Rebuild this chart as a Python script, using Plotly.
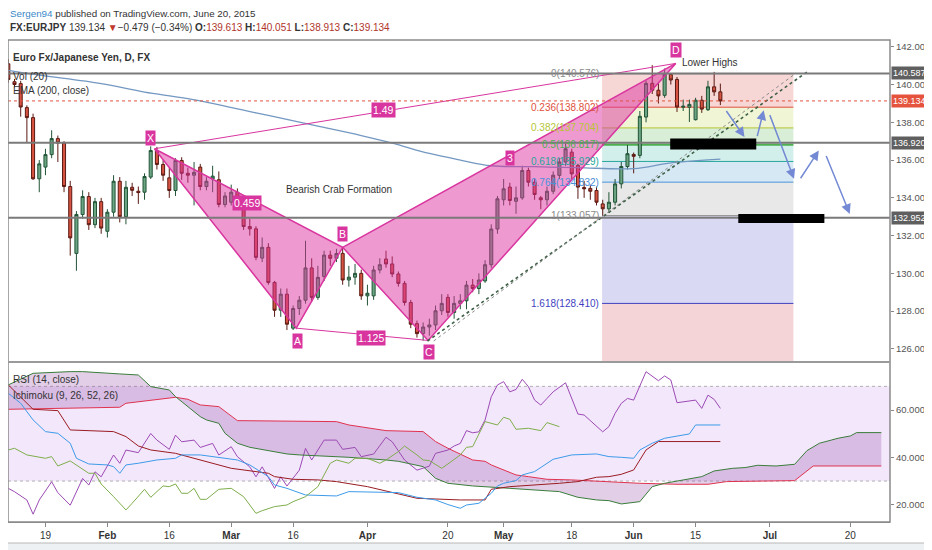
import pandas as pd
import plotly.graph_objects as go

# trading days on the time scale (weekends skipped), Jan 9 .. Jul 28 2015
days = pd.bdate_range("2015-01-09", periods=143)

# daily EUR/JPY candles, Jan 9 .. Jun 19 2015
opens = [141.10, 140.15, 140.05, 138.78, 138.25, 135.01, 135.63, 136.29, 137.14, 136.90,
         134.60, 131.06, 133.12, 134.07, 132.58, 133.80, 132.23, 133.24, 134.88, 133.00,
         134.56, 134.35, 134.30, 135.10, 136.51, 135.77, 135.06, 134.39, 135.98, 135.30,
         135.20, 135.63, 134.60, 135.00, 134.96, 133.65, 133.77, 134.30, 133.77, 132.48,
         132.36, 130.81, 131.38, 129.52, 128.05, 128.90, 127.10, 128.14, 128.58, 130.29,
         128.73, 129.84, 130.97, 130.80, 131.06, 129.65, 129.80, 130.00, 128.81, 128.81,
         130.18, 130.76, 130.50, 129.97, 129.47, 128.46, 127.34, 126.81, 127.16, 127.27,
         128.02, 128.73, 127.93, 128.41, 128.55, 129.38, 129.20, 129.60, 130.46, 132.35,
         133.90, 134.57, 133.82, 134.00, 135.45, 134.83, 134.00, 133.90, 134.35, 135.19,
         135.90, 136.42, 135.72, 134.55, 134.50, 134.39, 133.68, 133.42, 133.77, 134.74,
         135.66, 136.30, 136.25, 138.28, 140.06, 139.70, 139.43, 140.53, 140.27, 138.80,
         138.80, 138.14, 139.17, 138.67, 139.88, 139.613]
highs = [141.35, 140.30, 140.20, 138.90, 138.46, 136.00, 136.60, 137.58, 137.30, 137.00,
         134.90, 133.30, 134.40, 134.30, 134.00, 134.00, 133.40, 135.20, 135.10, 134.90,
         134.80, 134.60, 135.30, 136.73, 136.70, 136.00, 135.60, 136.10, 136.15, 135.60,
         135.90, 135.80, 135.10, 135.70, 135.40, 134.30, 134.70, 134.50, 133.90, 132.90,
         132.50, 131.90, 131.60, 129.60, 129.20, 129.20, 128.30, 128.80, 131.73, 130.80,
         130.40, 131.20, 131.20, 131.30, 131.38, 130.40, 130.50, 130.20, 129.40, 130.40,
         130.80, 131.20, 130.90, 130.10, 129.60, 128.60, 127.50, 127.40, 127.60, 128.30,
         128.90, 128.90, 128.80, 128.90, 129.60, 129.70, 130.00, 130.70, 132.60, 134.10,
         135.00, 134.80, 134.60, 135.70, 135.60, 135.00, 134.10, 134.60, 135.40, 136.10,
         136.90, 136.60, 135.80, 134.90, 134.70, 134.60, 133.90, 134.30, 135.00, 135.90,
         136.80, 136.40, 138.60, 140.20, 141.03, 140.10, 140.85, 140.60, 140.40, 139.20,
         139.20, 139.30, 139.40, 140.20, 140.67, 140.051]
lows = [140.10, 139.85, 138.30, 136.95, 134.95, 134.30, 135.20, 136.10, 135.90, 134.30,
        130.94, 130.14, 132.90, 132.30, 132.40, 132.10, 131.90, 133.00, 132.70, 132.60,
        134.10, 133.68, 133.90, 135.00, 135.50, 134.90, 134.00, 134.10, 134.95, 134.80,
        133.60, 134.40, 134.40, 134.30, 133.50, 133.50, 133.60, 133.60, 132.30, 132.00,
        130.70, 130.60, 129.40, 127.70, 127.70, 127.00, 127.00, 127.80, 128.40, 128.50,
        128.60, 129.60, 130.40, 130.60, 129.40, 129.30, 129.40, 128.60, 128.30, 128.60,
        130.00, 130.30, 129.80, 129.30, 128.30, 127.10, 126.60, 126.44, 126.70, 127.00,
        127.80, 127.70, 127.60, 128.10, 128.10, 129.00, 128.90, 129.50, 130.30, 132.10,
        133.60, 133.60, 133.16, 133.90, 134.60, 133.90, 133.40, 133.60, 134.20, 135.00,
        135.70, 135.00, 133.95, 134.00, 133.90, 133.60, 133.06, 133.20, 133.60, 134.50,
        135.50, 135.30, 136.10, 138.00, 139.50, 139.00, 139.30, 140.00, 138.55, 138.60,
        138.02, 138.10, 138.50, 138.60, 139.40, 138.913]
closes = [140.27, 140.00, 138.81, 138.25, 135.01, 135.80, 136.29, 137.14, 136.90, 134.60,
          131.88, 133.12, 134.07, 132.58, 133.80, 132.40, 133.24, 134.88, 133.00, 134.56,
          134.40, 134.28, 135.13, 136.51, 135.77, 135.20, 134.39, 135.98, 135.30, 135.20,
          135.35, 134.60, 134.88, 135.15, 133.65, 134.10, 134.30, 133.77, 132.48, 132.36,
          130.85, 131.38, 129.52, 128.05, 128.90, 127.31, 128.14, 128.58, 130.29, 128.73,
          129.79, 130.97, 130.80, 131.05, 129.65, 129.80, 130.00, 128.81, 128.95, 130.18,
          130.46, 130.50, 129.97, 129.47, 128.46, 127.31, 126.81, 127.16, 127.27, 128.02,
          128.41, 127.93, 128.41, 128.55, 129.38, 129.20, 129.65, 130.46, 132.35, 133.95,
          134.48, 133.86, 134.00, 135.45, 134.83, 134.18, 133.90, 134.35, 135.20, 135.90,
          136.60, 135.27, 134.57, 134.48, 134.35, 133.77, 133.42, 133.77, 134.74, 135.66,
          136.34, 136.20, 138.32, 140.06, 139.70, 139.40, 140.53, 140.24, 138.81, 138.85,
          138.95, 139.17, 138.70, 139.88, 139.613, 139.134]

# EMA(200), read at a few days (index into days)
ema_day = [0, 5, 15, 22, 29, 40, 50, 57, 62, 68, 73, 78, 85, 92, 101, 107, 115]
ema_val = [140.75, 140.5, 140.05, 139.6, 139.25, 138.5, 137.8, 137.3, 136.9, 136.35,
           136.0, 135.7, 135.65, 135.6, 135.55, 135.85, 136.05]

# RSI(14)
rsi_day = [0, 1, 3, 4, 5, 7, 8, 10, 12, 13, 14, 15, 17, 18, 19, 21, 23, 24, 26, 27,
           28, 30, 31, 33, 34, 36, 37, 39, 40, 41, 43, 44, 45, 47, 48, 49, 51, 53, 54, 56,
           57, 59, 61, 62, 64, 66, 68, 69, 71, 72, 73, 74, 75, 76, 77, 78, 79, 80, 81, 82,
           83, 84, 85, 86, 87, 88, 90, 92, 93, 95, 96, 97, 98, 99, 100, 101, 103, 105, 106, 107,
           108, 111, 112, 113, 114, 115]
rsi_val = [26.9, 25.5, 22.0, 16.0, 22.0, 29.7, 25.1, 19.8, 31.1, 28.3, 33.9, 31.8, 41.0, 37.5,
           43.1, 42.0, 50.1, 47.3, 43.4, 49.4, 46.6, 47.3, 44.2, 45.9, 41.0, 44.5, 40.3, 36.0,
           31.8, 36.0, 26.9, 31.8, 27.9, 34.6, 43.8, 38.9, 47.3, 47.3, 43.4, 44.2, 40.3, 41.4,
           48.5, 46.6, 38.9, 34.6, 36.3, 41.7, 43.1, 44.8, 45.9, 51.3, 50.4, 50.8, 55.8, 65.6,
           70.6, 72.0, 67.7, 68.7, 73.0, 69.9, 64.2, 62.1, 64.9, 67.7, 71.5, 58.3, 57.9, 53.0,
           50.8, 53.0, 58.6, 62.8, 64.9, 64.2, 76.2, 72.4, 74.4, 72.7, 63.1, 64.2, 60.7, 66.3,
           64.5, 60.7]

# Ichimoku (9, 26, 52, 26), price units
tenkan_day = [0, 2, 4, 6, 8, 10, 11, 13, 16, 17, 18, 19, 21, 24, 27, 28, 31, 34, 37, 39,
              41, 42, 43, 45, 48, 53, 55, 63, 66, 69, 71, 73, 74, 76, 78, 79, 80, 82, 83, 85,
              88, 91, 95, 97, 99, 101, 102, 104, 106, 109, 110, 111, 115]
tenkan_val = [143.90, 142.47, 140.09, 138.42, 138.18, 136.76, 134.61, 133.80, 133.66, 133.42,
              132.47, 133.66, 133.90, 134.37, 134.61, 135.09, 135.09, 134.75, 134.37, 133.66,
              132.47, 131.99, 130.80, 130.32, 129.37, 129.23, 129.85, 129.71, 129.04, 128.66,
              128.00, 127.47, 127.94, 128.18, 129.61, 130.66, 131.04, 131.42, 132.23, 132.71,
              134.47, 135.09, 135.23, 134.85, 134.75, 134.61, 135.80, 136.76, 137.47, 137.94,
              138.09, 139.37, 139.37]
kijun_day = [0, 4, 8, 10, 17, 19, 21, 23, 27, 31, 36, 42, 43, 46, 50, 53, 58, 66, 71, 73,
             77, 78, 81, 86, 89, 92, 95, 97, 99, 101, 102, 103, 105, 115]
kijun_val = [145.09, 141.61, 141.42, 138.66, 138.42, 137.71, 136.37, 135.80, 135.32, 134.37,
             133.18, 132.47, 131.99, 131.61, 131.52, 131.28, 130.56, 128.90, 128.75, 128.66,
             128.66, 130.18, 130.56, 130.80, 131.04, 131.28, 131.90, 131.99, 132.32, 132.94,
             134.37, 135.80, 137.00, 137.00]
chikou_day = [0, 1, 3, 4, 6, 7, 8, 10, 11, 13, 14, 15, 17, 18, 19, 20, 22, 23, 25, 26,
              27, 28, 29, 30, 31, 32, 34, 36, 38, 40, 41, 43, 45, 46, 48, 50, 52, 53, 55, 56,
              58, 60, 61, 63, 64, 66, 67, 68, 70, 71, 73, 74, 75, 77, 79, 80, 81, 82, 84, 86,
              87, 89]
chikou_val = [135.80, 136.04, 135.09, 134.94, 134.61, 134.85, 133.51, 134.23, 133.66, 132.47,
              132.47, 130.94, 129.13, 128.18, 127.23, 128.18, 130.18, 129.04, 130.66, 130.56,
              130.94, 129.61, 129.61, 130.32, 128.75, 128.75, 130.18, 130.32, 129.13, 126.75,
              127.13, 127.71, 127.94, 128.42, 129.13, 130.56, 133.90, 134.37, 133.90, 134.61,
              134.61, 133.90, 134.37, 135.56, 136.37, 135.09, 134.37, 134.28, 133.18, 133.80,
              135.09, 136.18, 136.28, 139.85, 139.37, 140.47, 140.18, 138.75, 138.90, 138.56,
              139.71, 139.13]
span_a_day = [0, 4, 10, 12, 18, 21, 23, 26, 27, 29, 31, 32, 34, 35, 37, 39, 42, 45, 47, 53,
              55, 61, 63, 67, 69, 71, 75, 81, 86, 89, 92, 95, 97, 99, 102, 104, 106, 109, 112, 114,
              117, 119, 121, 124, 127, 129, 131, 133, 134, 136, 137, 141]
span_a_val = [145.09, 146.75, 146.99, 146.99, 146.66, 146.51, 144.85, 144.37, 143.42, 141.99,
              140.56, 140.09, 139.61, 138.18, 136.76, 136.18, 135.71, 135.23, 135.09, 134.85,
              134.75, 134.37, 134.18, 133.42, 131.75, 131.04, 130.66, 130.32, 130.08, 129.85,
              129.04, 128.66, 128.56, 128.09, 128.42, 130.56, 131.04, 131.52, 131.99, 132.80,
              133.18, 133.28, 133.61, 133.51, 133.75, 135.71, 136.76, 137.23, 137.47, 137.80,
              138.28, 138.28]
span_b_day = [0, 18, 19, 24, 27, 29, 31, 34, 37, 53, 55, 61, 67, 69, 71, 75, 77, 78, 80, 82,
              84, 87, 91, 97, 102, 108, 113, 116, 127, 130, 141]
span_b_val = [141.61, 141.90, 142.47, 142.94, 143.32, 143.04, 142.23, 141.99, 139.99, 139.85,
              139.37, 138.56, 138.42, 137.00, 136.04, 134.37, 134.18, 133.66, 132.94, 132.23,
              131.99, 131.61, 131.52, 131.23, 131.04, 130.90, 130.90, 131.28, 131.42, 133.51,
              133.51]

# horizontal support / resistance lines
sr_levels = [140.587, 136.920, 132.952]

# fib retracement from the May low to the June high
fib_ratio = [0, 0.236, 0.382, 0.5, 0.618, 0.764, 1, 1.618]
fib_price = [140.576, 138.802, 137.704, 136.817, 135.929, 134.832, 133.057, 128.410]
fib_floor = 120.891          # 2.618 level, below the visible range
fib_days = [95.9, 126.8]

# bearish crab: point names, trading-day index, price
crab_name = ["X", "A", "B", "C", "D"]
crab_day = [23.6, 46.5, 54.0, 67.8, 107.8]
crab_price = [136.6, 127.1, 131.38, 126.45, 141.12]
label_day = [23.0, 46.7, 54.0, 67.9, 107.9]
label_price = [137.18, 126.42, 132.11, 125.84, 141.82]
ratio_text = ["0.459", "1.125", "1.49", "3"]
ratio_day = [38.5, 58.5, 60.6, 81.0]
ratio_price = [133.75, 126.58, 138.64, 136.09]

# dotted trend lines off the April low
trend_day = [[67.7, 129.0], [68.7, 126.8]]
trend_price = [[126.42, 140.67], [126.42, 140.50]]

# projected path: black target zones and arrows (tail day, tail price, head day, head price)
zone_day = [[106.9, 120.8], [117.9, 131.8]]
zone_price = [[136.56, 137.14], [132.67, 133.15]]
arrows = [(115.8, 138.68, 118.9, 137.22), (120.9, 137.19, 122.0, 138.64),
          (122.9, 138.46, 126.9, 135.01), (127.8, 134.96, 130.9, 136.51),
          (132.0, 136.30, 135.9, 133.15)]

tick_dates = ["2015-01-19", "2015-02-02", "2015-02-16", "2015-03-02", "2015-03-16", "2015-04-01",
              "2015-04-20", "2015-05-01", "2015-05-18", "2015-06-01", "2015-06-15", "2015-07-01",
              "2015-07-20"]
tick_text = ["19", "<b>Feb</b>", "16", "<b>Mar</b>", "16", "<b>Apr</b>", "20", "<b>May</b>",
             "18", "<b>Jun</b>", "15", "<b>Jul</b>", "20"]

price_range = [125.36, 142.36]
rsi_range = [12.7, 79.9]
ichi_range = [125.51, 148.23]

FONT = "Liberation Sans, Arial, sans-serif"
PINK = "#d9359f"


def at(i):
    # fractional trading-day index -> timestamp
    n = int(i)
    return days[n] + pd.Timedelta(days=i - n)


fig = go.Figure()

# ---- fib retracement box ----
zone_fill = ["#f7d6d6", "#f0f5d6", "#d8eed6", "#d3efeb", "#d7e8f5", "#e8e8e8", "#d9d9f4", "#f5d4d7"]
fib_col = ["#8a8a8a", "#e0503c", "#b5c534", "#4caf50", "#26a69a", "#4a90d9", "#8a8a8a", "#3f3fbf"]
fx0, fx1 = at(fib_days[0]), at(fib_days[1])
edges = fib_price + [max(fib_floor, price_range[0])]
for k, col in enumerate(zone_fill):
    fig.add_shape(type="rect", xref="x", yref="y", x0=fx0, x1=fx1, y0=edges[k + 1], y1=edges[k],
                  fillcolor=col, line_width=0, layer="below")
for r, p, col in zip(fib_ratio, fib_price, fib_col):
    fig.add_shape(type="line", xref="x", yref="y", x0=fx0, x1=fx1, y0=p, y1=p,
                  line=dict(color=col, width=2 if r == 0.5 else 1), layer="below")
    fig.add_annotation(x=fx0, y=p, xref="x", yref="y", text=f"{r:g}({p:.3f})", showarrow=False,
                       xanchor="right", xshift=-1, font=dict(size=10, color=col, family=FONT))

# ---- RSI band ----
fig.add_shape(type="rect", xref="paper", yref="y2", x0=0, x1=1, y0=30, y1=70,
              fillcolor="#f3e7fb", line_width=0, layer="below")
for lvl in (30, 70):
    fig.add_shape(type="line", xref="paper", yref="y2", x0=0, x1=1, y0=lvl, y1=lvl,
                  line=dict(color="#b0b0b0", width=1, dash="dot"), layer="below")

# ---- candles and EMA ----
fig.add_trace(go.Candlestick(
    x=days[:len(opens)], open=opens, high=highs, low=lows, close=closes,
    increasing=dict(line=dict(color="#225437", width=1), fillcolor="#6ba583"),
    decreasing=dict(line=dict(color="#5b1a13", width=1), fillcolor="#d75442"),
    whiskerwidth=0, hoverinfo="skip"))
fig.add_trace(go.Scatter(x=days[ema_day], y=ema_val, mode="lines", line_shape="spline",
                         line=dict(color="#7398c2", width=1.3), hoverinfo="skip"))

# ---- crab pattern ----
cx = [at(d) for d in crab_day]
for a, b, c in [(0, 1, 2), (2, 3, 4)]:
    fig.add_trace(go.Scatter(x=[cx[a], cx[b], cx[c], cx[a]],
                             y=[crab_price[a], crab_price[b], crab_price[c], crab_price[a]],
                             mode="lines", fill="toself", fillcolor="rgba(222,52,160,0.5)",
                             line=dict(color=PINK, width=1.5), hoverinfo="skip"))
for a, b in [(0, 4), (1, 3)]:
    fig.add_trace(go.Scatter(x=[cx[a], cx[b]], y=[crab_price[a], crab_price[b]], mode="lines",
                             line=dict(color=PINK, width=1), hoverinfo="skip"))
for name, d, p in zip(crab_name, label_day, label_price):
    fig.add_annotation(x=at(d), y=p, text=name, showarrow=False, bgcolor=PINK, borderpad=1,
                       font=dict(size=10.5, color="white", family=FONT))
for t, d, p in zip(ratio_text, ratio_day, ratio_price):
    fig.add_annotation(x=at(d), y=p, text=t, showarrow=False, bgcolor=PINK, borderpad=1,
                       font=dict(size=10.5, color="white", family=FONT))

# ---- dotted trend lines ----
for (d0, d1), (p0, p1), col, w in zip(trend_day, trend_price, ["#3d5f45", "#8a8a8a"], [1.6, 1]):
    fig.add_trace(go.Scatter(x=[at(d0), at(d1)], y=[p0, p1], mode="lines",
                             line=dict(color=col, width=w, dash="dot"), hoverinfo="skip"))

# ---- support / resistance and last price ----
for lvl in sr_levels:
    fig.add_shape(type="line", xref="paper", yref="y", x0=0, x1=1, y0=lvl, y1=lvl,
                  line=dict(color="#7a7a7a", width=2))
fig.add_shape(type="line", xref="paper", yref="y", x0=0, x1=1, y0=closes[-1], y1=closes[-1],
              line=dict(color="#e0553f", width=1, dash="dot"))

# ---- projected path ----
for (d0, d1), (p0, p1) in zip(zone_day, zone_price):
    fig.add_shape(type="rect", xref="x", yref="y", x0=at(d0), x1=at(d1), y0=p0, y1=p1,
                  fillcolor="black", line_width=0)
for d0, p0, d1, p1 in arrows:
    fig.add_annotation(x=at(d1), y=p1, ax=at(d0), ay=p0, xref="x", yref="y", axref="x", ayref="y",
                       text="", showarrow=True, arrowhead=2, arrowsize=1.3, arrowwidth=1.5,
                       arrowcolor="#7489d4")

fig.add_annotation(x=at(53.4), y=134.43, text="Bearish Crab Formation", showarrow=False,
                   font=dict(size=10, color="#333", family=FONT))
fig.add_annotation(x=at(113.3), y=141.19, text="Lower Highs", showarrow=False,
                   font=dict(size=10, color="#333", family=FONT))

# ---- Ichimoku (own hidden scale over the RSI pane) ----
fig.add_trace(go.Scatter(x=days[span_b_day], y=span_b_val, yaxis="y3", mode="lines",
                         line=dict(color="#e0324f", width=1), hoverinfo="skip"))
fig.add_trace(go.Scatter(x=days[span_a_day], y=span_a_val, yaxis="y3", mode="lines",
                         fill="tonexty", fillcolor="rgba(150,80,170,0.28)",
                         line=dict(color="#3a7d3a", width=1), hoverinfo="skip"))
fig.add_trace(go.Scatter(x=days[kijun_day], y=kijun_val, yaxis="y3", mode="lines",
                         line=dict(color="#9a1c22", width=1), hoverinfo="skip"))
fig.add_trace(go.Scatter(x=days[tenkan_day], y=tenkan_val, yaxis="y3", mode="lines",
                         line=dict(color="#3d9be9", width=1), hoverinfo="skip"))
fig.add_trace(go.Scatter(x=days[chikou_day], y=chikou_val, yaxis="y3", mode="lines",
                         line=dict(color="#7fae4c", width=1), hoverinfo="skip"))
fig.add_trace(go.Scatter(x=days[rsi_day], y=rsi_val, yaxis="y2", mode="lines",
                         line=dict(color="#9c4ab5", width=1), hoverinfo="skip"))

# ---- right axis price tags ----
for lvl in sr_levels:
    fig.add_annotation(x=1, y=lvl, xref="paper", yref="y", text=f"{lvl:.3f}", showarrow=False,
                       xanchor="left", xshift=1, bgcolor="#5f5f5f", borderpad=1,
                       font=dict(size=9, color="white", family=FONT))
fig.add_annotation(x=1, y=closes[-1], xref="paper", yref="y", text=f"{closes[-1]:.3f}",
                   showarrow=False, xanchor="left", xshift=1, bgcolor="#e5533d", borderpad=1,
                   font=dict(size=9, color="white", family=FONT))

# ---- header and pane legends ----
chg = closes[-1] - closes[-2]
red = "color:#b0342a"
head2 = (f"<b>FX:EURJPY</b> {closes[-1]:.3f} <span style='color:#c0392b'>▼</span>"
         f"−{abs(chg):.3f} (−{abs(chg) / closes[-2] * 100:.2f}%) "
         f"<b>O:</b><span style='{red}'>{opens[-1]:.3f}</span> "
         f"<b>H:</b><span style='{red}'>{highs[-1]:.3f}</span> "
         f"<b>L:</b><span style='{red}'>{lows[-1]:.3f}</span> "
         f"<b>C:</b><span style='{red}'>{closes[-1]:.3f}</span>")
texts = [
    ("<span style='color:#3a88c8'>Sergen94</span> published on TradingView.com, June 20, 2015",
     0.0, 1.055, 9.8),
    (head2, 0.0, 1.025, 10),
    ("<b>Euro Fx/Japanese Yen, D, FX</b>", 0.0034, 0.963, 10),
    ("Vol (20)", 0.0034, 0.925, 10),
    ("EMA (200, close)", 0.0034, 0.896, 10),
    ("RSI (14, close)", 0.0034, 0.295, 10),
    ("Ichimoku (9, 26, 52, 26)", 0.0034, 0.263, 10),
]
for t, xp, yp, fs in texts:
    fig.add_annotation(x=xp, y=yp, xref="paper", yref="paper", text=t, showarrow=False,
                       xanchor="left", yanchor="middle", font=dict(size=fs, color="#333", family=FONT))

# ---- frame ----
fig.add_shape(type="rect", xref="paper", yref="paper", x0=0, x1=1, y0=0, y1=1,
              line=dict(color="#8a8a8a", width=1.5))
fig.add_shape(type="line", xref="paper", yref="paper", x0=0, x1=1, y0=0.332, y1=0.332,
              line=dict(color="#9a9a9a", width=2))
fig.add_shape(type="rect", xref="paper", yref="paper", x0=-0.01, x1=1.06, y0=-0.07, y1=-0.0436,
              fillcolor="#eef1f4", line=dict(color="#b8b8b8", width=1))

axis_font = dict(size=9.5, color="#555", family=FONT)
fig.update_layout(
    width=924, height=542,
    margin=dict(l=0, r=42, t=32, b=28),
    paper_bgcolor="white", plot_bgcolor="white",
    showlegend=False,
    xaxis=dict(type="date", anchor="y2",
               range=[days[0] - pd.Timedelta(days=0.05), at(142.4)],
               rangebreaks=[dict(bounds=["sat", "mon"])],
               tickvals=tick_dates, ticktext=tick_text, ticks="outside", ticklen=4,
               tickcolor="#888", tickfont=dict(size=10, color="#333", family=FONT),
               showgrid=False, zeroline=False, showline=True, linecolor="#8a8a8a",
               rangeslider=dict(visible=False)),
    yaxis=dict(domain=[0.334, 1], anchor="x", side="right", range=price_range,
               tick0=126, dtick=2, tickformat=".3f", ticks="outside", ticklen=3,
               tickcolor="#888", tickfont=axis_font, showgrid=False, zeroline=False),
    yaxis2=dict(domain=[0, 0.330], anchor="x", side="right", range=rsi_range,
                tickvals=[20, 40, 60], tickformat=".4f", ticks="outside", ticklen=3,
                tickcolor="#888", tickfont=axis_font, showgrid=False, zeroline=False),
    yaxis3=dict(overlaying="y2", range=ichi_range, visible=False),
)

fig.write_html("out.html")
